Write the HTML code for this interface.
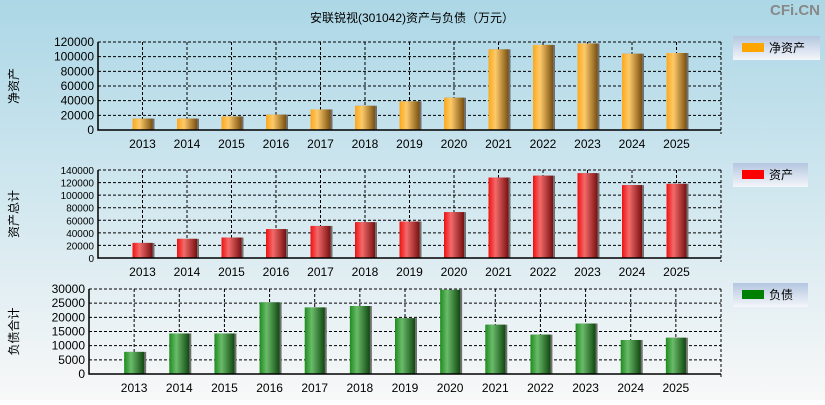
<!DOCTYPE html>
<html><head><meta charset="utf-8">
<style>
html,body{margin:0;padding:0}
body{width:825px;height:400px;overflow:hidden;font-family:"Liberation Sans","Noto Sans CJK SC",sans-serif}
</style></head>
<body>
<svg id="c" width="825" height="400" xmlns="http://www.w3.org/2000/svg">
<defs>
<linearGradient id="bg" x1="0" y1="0" x2="0" y2="1">
<stop offset="0" stop-color="#acd7e6"/><stop offset="1" stop-color="#f8f8f8"/></linearGradient>
<linearGradient id="gO" x1="0" x2="1"><stop offset="0" stop-color="#fca81c"/><stop offset="0.35" stop-color="#fdca6a"/><stop offset="1" stop-color="#7a5010"/></linearGradient>
<linearGradient id="gR" x1="0" x2="1"><stop offset="0" stop-color="#f01010"/><stop offset="0.35" stop-color="#f36a6a"/><stop offset="1" stop-color="#781010"/></linearGradient>
<linearGradient id="gG" x1="0" x2="1"><stop offset="0" stop-color="#1e8c1e"/><stop offset="0.35" stop-color="#6abb6a"/><stop offset="1" stop-color="#104810"/></linearGradient>
<linearGradient id="lg" x1="0" y1="0" x2="0" y2="1"><stop offset="0" stop-color="#b4c6e0"/><stop offset="1" stop-color="#f4f6fa"/></linearGradient>
</defs>
<rect width="825" height="400" fill="url(#bg)"/>
<text x="412" y="22" text-anchor="middle" font-size="12" fill="#000">安联锐视(301042)资产与负债（万元）</text>
<text x="820" y="15" text-anchor="end" font-size="15" font-weight="bold" fill="#888">CFi.CN</text>
<g id="plots"></g>
</svg>
<script>
const years = ["2013","2014","2015","2016","2017","2018","2019","2020","2021","2022","2023","2024","2025"];
const netAssets = [15500,15500,18500,21000,28000,33000,39000,44000,110000,116000,118000,104000,105000];
const totalAssets = [24000,30500,32500,46000,51000,57000,58000,73000,128000,131000,135000,116000,118000];
const liabilities = [7800,14300,14300,25300,23500,24000,19700,29700,17400,13900,17800,12000,12800];
const ticks1 = [0,20000,40000,60000,80000,100000,120000];
const ticks2 = [0,20000,40000,60000,80000,100000,120000,140000];
const ticks3 = [0,5000,10000,15000,20000,25000,30000];

const NS="http://www.w3.org/2000/svg";
const root=document.getElementById('plots');
function mk(tag,attrs,parent){const e=document.createElementNS(NS,tag);for(const k in attrs)e.setAttribute(k,attrs[k]);(parent||root).appendChild(e);return e;}

const panels=[
 {id:'net-assets',vals:netAssets,ticks:ticks1,max:120000,left:98,right:721,top:42,bottom:130,grad:'gO',color:'#ffa500',ytitle:'净资产',legend:'净资产',ly:36,lw:87,fs:12},
 {id:'total-assets',vals:totalAssets,ticks:ticks2,max:140000,left:98,right:721,top:170,bottom:258,grad:'gR',color:'#ff0000',ytitle:'资产总计',legend:'资产',ly:163,lw:75,fs:10},
 {id:'liabilities',vals:liabilities,ticks:ticks3,max:30000,left:89,right:721,top:289,bottom:374,grad:'gG',color:'#008000',ytitle:'负债合计',legend:'负债',ly:283,lw:75,fs:12}
];
panels.forEach(p=>{
 const g=mk('g',{});
 
 
 const step=(p.right-p.left)/14;
 const xc=i=>p.left+step*(i+1);
 const y=v=>p.bottom-(v/p.max)*(p.bottom-p.top);
 // gridlines
 p.ticks.forEach(t=>{
  if(t>0){const l=mk('line',{x1:p.left,x2:p.right,y1:y(t),y2:y(t),stroke:'#000','stroke-dasharray':'3,2','stroke-width':1},g);
  }
  const tx=mk('text',{x:p.left-4,y:y(t)+4,'text-anchor':'end','font-size':p.fs,fill:'#000'},g);
  
  tx.textContent=t;
 });
 years.forEach((yr,i)=>{
  const l=mk('line',{x1:xc(i),x2:xc(i),y1:p.top,y2:p.bottom,stroke:'#000','stroke-dasharray':'3,2'},g);
  
 });
 const rl=mk('line',{x1:p.right,x2:p.right,y1:p.top,y2:p.bottom+4,stroke:'#000','stroke-dasharray':'3,2'},g);
 
 // bars
 p.vals.forEach((v,i)=>{
  const sh=mk('rect',{x:xc(i)-9,y:y(v),width:21,height:p.bottom-y(v),fill:'#707070'},g);
  
  const r=mk('rect',{x:xc(i)-10,y:y(v),width:20,height:p.bottom-y(v),fill:'url(#'+p.grad+')'},g);
  
  const tx=mk('text',{x:xc(i),y:p.bottom+18,'text-anchor':'middle','font-size':12,fill:'#000'},g);
  
  tx.textContent=years[i];
 });
 const ax=mk('path',{d:`M${p.left},${p.top} V${p.bottom} H${p.right}`,stroke:'#000','stroke-width':1.5,fill:'none'},g);
 
 const yt=mk('text',{x:0,y:0,'font-size':12,fill:'#000','text-anchor':'middle',transform:`translate(18,${(p.top+p.bottom)/2}) rotate(-90)`},g);
 
 yt.textContent=p.ytitle;
 const lg=mk('g',{},g);
 
 mk('rect',{x:733,y:p.ly,width:p.lw,height:24,fill:'url(#lg)'},lg);
 mk('rect',{x:742,y:p.ly+7,width:22,height:9,fill:p.color},lg);
 const lt=mk('text',{x:769,y:p.ly+16,'font-size':12,fill:'#000'},lg);
 lt.textContent=p.legend;
});
</script>
</body></html>
